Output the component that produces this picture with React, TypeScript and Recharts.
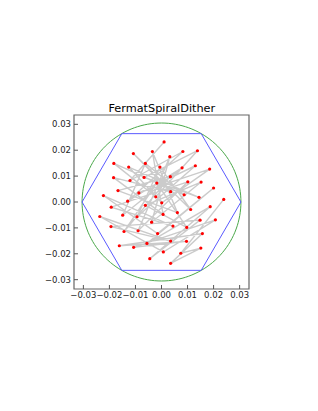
import React from 'react'
import { ScatterChart, Scatter, XAxis, YAxis, ReferenceArea } from 'recharts'

// dot positions (data units)
const pointX = [
  0.001, -0.0035, -0.0108, -0.0183, -0.0126, -0.0062, -0.0006, -0.0184, -0.0121, -0.0067,
  -0.0018, -0.0167, -0.0223, -0.0087, -0.0022, -0.013, -0.0062, -0.0193, 0.0006, -0.0149,
  -0.0094, -0.0237, -0.0038, -0.0194, -0.009, -0.0144, -0.0015, -0.0107, -0.0056, -0.0162,
  0.0007, -0.0045, 0.0082, 0.0138, 0.0032, 0.0079, 0.013, 0.0185, 0.0034, 0.0101,
  0.0152, 0.02, 0.0035, 0.0087, 0.0144, 0.0239, 0.0001, 0.0061, 0.0112, 0.0187,
  0.0044, 0.0097, 0.0148, 0.0207, 0.0035, 0.0096, 0.0157, 0.0074, 0.0151, 0.0035,
]
const pointY = [
  0.0232, 0.0195, 0.0187, 0.0149, 0.0135, 0.0149, 0.0135, 0.0094, 0.0083, 0.0095,
  0.0073, 0.0044, 0.0025, 0.0035, 0.002, 0.0003, -0.0013, -0.002, -0.0048, -0.0051,
  -0.0057, -0.0056, -0.0078, -0.0095, -0.0111, -0.0114, -0.0122, -0.0175, -0.016, -0.0169,
  -0.0193, -0.0219, 0.0195, 0.0198, 0.0175, 0.0132, 0.014, 0.0127, 0.0098, 0.0078,
  0.0077, 0.0054, 0.004, 0.0028, 0.0018, 0.001, -0.0003, -0.0041, -0.0029, -0.0018,
  -0.0093, -0.0098, -0.007, -0.0069, -0.0151, -0.0152, -0.0122, -0.0198, -0.0178, -0.0237,
]
// visiting order of the dither path (1-based)
const ditherOrder = [
  1, 9, 33, 16, 36, 20, 6, 44, 4, 15, 34, 10, 45, 5, 47, 38, 14, 37, 21, 7,
  49, 3, 43, 8, 19, 2, 48, 12, 39, 26, 11, 52, 17, 41, 23, 35, 25, 40, 18, 51,
  13, 27, 42, 29, 50, 32, 53, 24, 55, 22, 31, 54, 28, 56, 30, 57, 60, 59, 58, 46,
]
const hexagonX = [0.0305, 0.01525, -0.01525, -0.0305, -0.01525, 0.01525, 0.0305]
const hexagonY = [0, 0.0264, 0.0264, 0, -0.0264, -0.0264, 0]
const circleRadius = 0.0305
const axisTicks = [-0.03, -0.02, -0.01, 0, 0.01, 0.02, 0.03]
const axisLimit = 0.0336

const points = pointX.map((x, i) => ({ x, y: pointY[i] }))
const path = ditherOrder.map((i) => points[i - 1])
const hexagon = hexagonX.map((x, i) => ({ x, y: hexagonY[i] }))
const circle = Array.from({ length: 145 }, (_, i) => {
  const a = (i / 144) * Math.PI * 2
  return { x: circleRadius * Math.cos(a), y: circleRadius * Math.sin(a) }
})

const fmt = (v: number) => (v < 0 ? '\u2212' : '') + Math.abs(v).toFixed(2)
const tickStyle = { fontSize: 8.5, fill: '#222', fontFamily: 'DejaVu Sans' }
const noShape = () => <g />
const noTick = () => <g />
const redDot = (props: any) => (
  <circle cx={props.cx} cy={props.cy} r={1.6} fill='#ff0000' />
)

const App = () => {
  return (
    <div style={{ position: 'relative', margin: '-8px 0 0 -8px', width: 318, height: 411 }}>
      <svg width={318} height={120} style={{ position: 'absolute', left: 0, top: 0 }}>
        <text
          x={161.8}
          y={112}
          textAnchor='middle'
          fontFamily='DejaVu Sans'
          fontSize={11.3}
          fill='#000'
        >
          FermatSpiralDither
        </text>
      </svg>
      <ScatterChart
        width={318}
        height={411}
        margin={{ top: 115, right: 69, bottom: 102, left: 30 }}
        style={{ position: 'absolute', left: 0, top: 0 }}
      >
        <XAxis
          type='number'
          dataKey='x'
          domain={[-axisLimit, axisLimit]}
          ticks={axisTicks}
          tickFormatter={fmt}
          tick={tickStyle}
          tickSize={-4}
          tickMargin={7}
          axisLine={false}
          tickLine={{ stroke: '#555' }}
          height={20}
          allowDataOverflow
        />
        <XAxis
          xAxisId='top'
          orientation='top'
          type='number'
          dataKey='x'
          domain={[-axisLimit, axisLimit]}
          ticks={axisTicks}
          tick={noTick}
          tickSize={-4}
          axisLine={false}
          tickLine={{ stroke: '#555' }}
          height={0}
          allowDataOverflow
        />
        <YAxis
          type='number'
          dataKey='y'
          domain={[-axisLimit, axisLimit]}
          ticks={axisTicks}
          tickFormatter={fmt}
          tick={tickStyle}
          tickSize={-4}
          tickMargin={7}
          axisLine={false}
          tickLine={{ stroke: '#555' }}
          width={44}
          allowDataOverflow
        />
        <YAxis
          yAxisId='right'
          orientation='right'
          type='number'
          dataKey='y'
          domain={[-axisLimit, axisLimit]}
          ticks={axisTicks}
          tick={noTick}
          tickSize={-4}
          axisLine={false}
          tickLine={{ stroke: '#555' }}
          width={0}
          allowDataOverflow
        />
        <Scatter
          data={circle}
          line={{ stroke: '#4aa84a', strokeWidth: 1 }}
          shape={noShape}
          isAnimationActive={false}
        />
        <Scatter
          data={hexagon}
          line={{ stroke: '#5a5aff', strokeWidth: 1 }}
          shape={noShape}
          isAnimationActive={false}
        />
        <Scatter
          data={path}
          line={{ stroke: '#cbcbcb', strokeWidth: 1.4 }}
          shape={noShape}
          isAnimationActive={false}
        />
        <Scatter data={points} shape={redDot} isAnimationActive={false} />
        <ReferenceArea
          x1={-axisLimit}
          x2={axisLimit}
          y1={-axisLimit}
          y2={axisLimit}
          fill='none'
          stroke='#666'
          strokeWidth={1.2}
        />
      </ScatterChart>
    </div>
  )
}

export default App
